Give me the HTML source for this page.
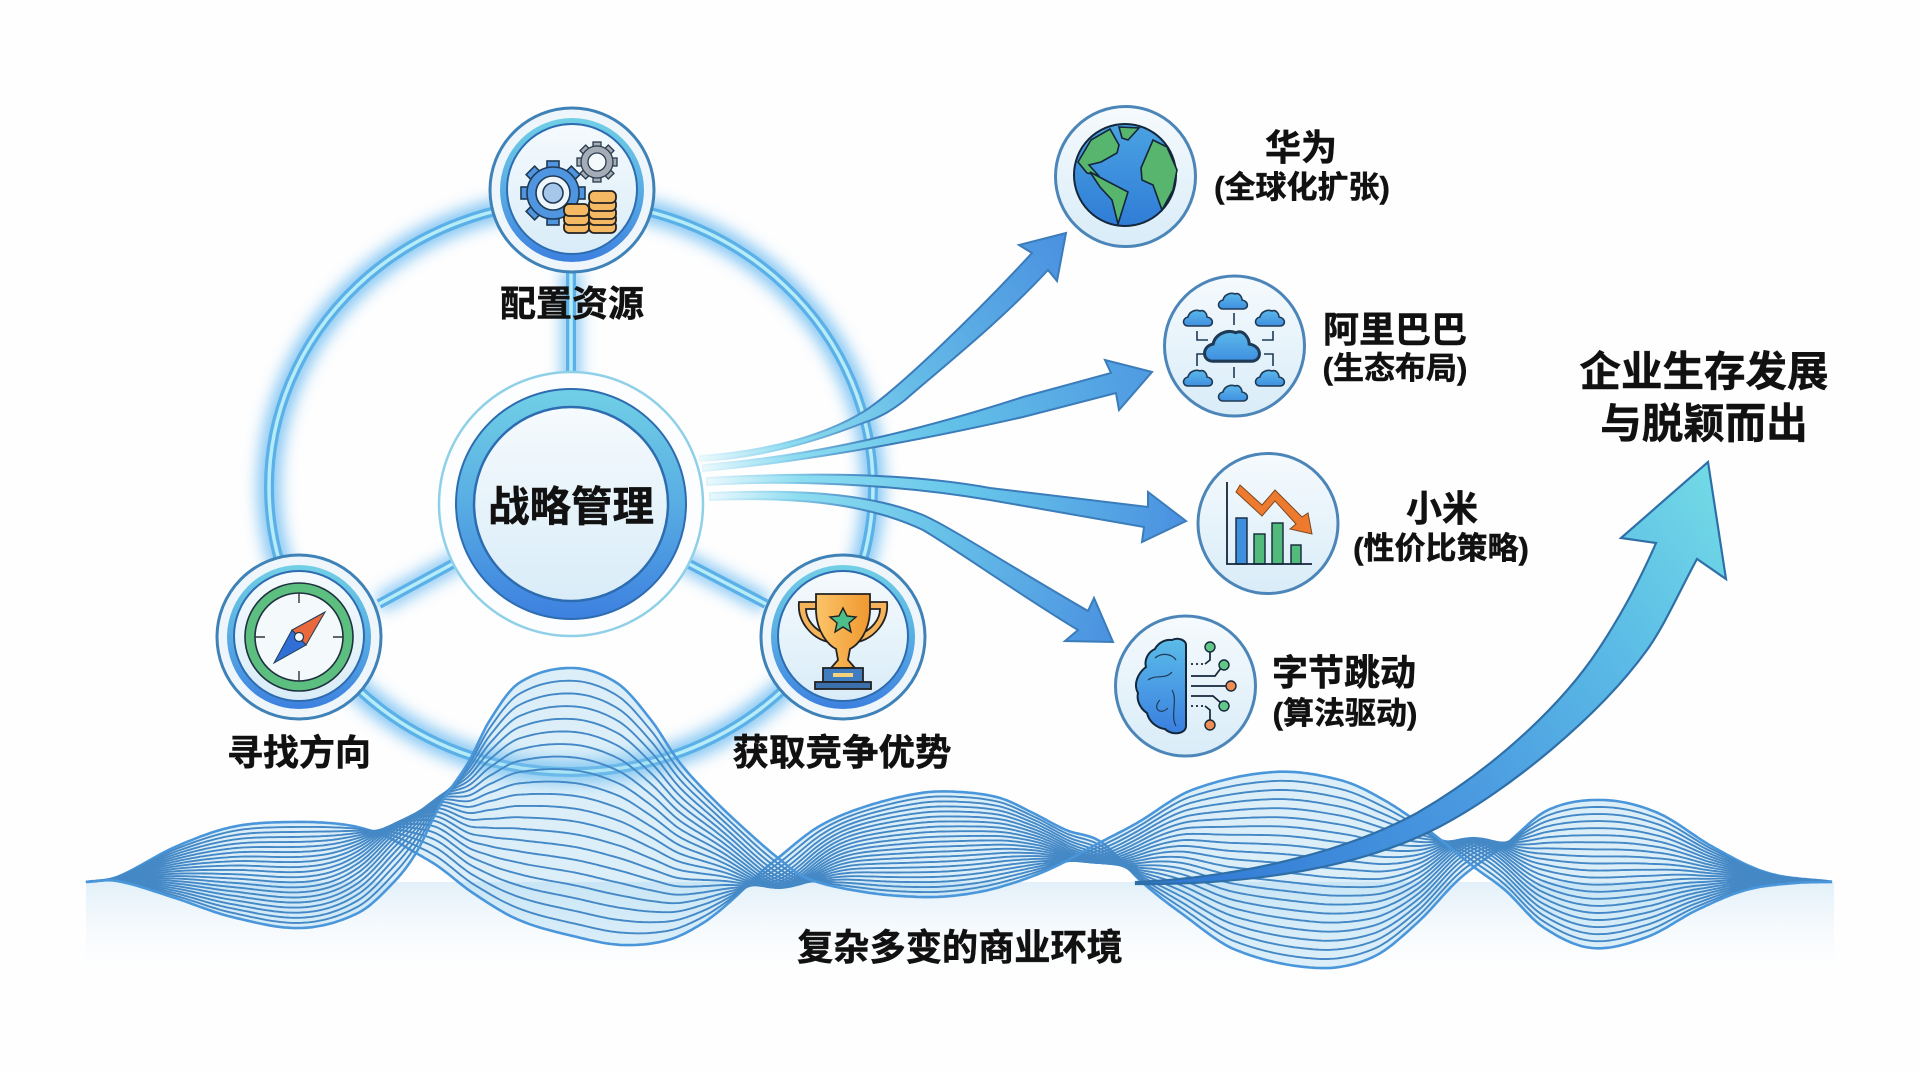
<!DOCTYPE html>
<html lang="zh"><head><meta charset="utf-8"><title>战略管理</title>
<style>
html,body{margin:0;padding:0;background:#fefefe;width:1920px;height:1072px;overflow:hidden}
svg{display:block}
text{font-family:"Liberation Sans","Noto Sans CJK SC",sans-serif;font-weight:700;fill:#111;stroke:#111;stroke-width:.5px;text-anchor:middle}
</style></head><body>
<svg id="s" xmlns="http://www.w3.org/2000/svg" width="1920" height="1072" viewBox="0 0 1920 1072">
<defs>
<filter id="b" x="-20%" y="-20%" width="140%" height="140%"><feGaussianBlur stdDeviation="8"/></filter>
<linearGradient id="disk" x1="0" y1="0" x2="0" y2="1"><stop offset="0" stop-color="#f5fafd"/><stop offset="1" stop-color="#d9ecf8"/></linearGradient>
<linearGradient id="band" x1="0" y1="0" x2="0" y2="1"><stop offset="0" stop-color="#71d0e6"/><stop offset=".5" stop-color="#58ade3"/><stop offset="1" stop-color="#3d80e0"/></linearGradient>
<linearGradient id="wash" x1="0" y1="0" x2="0" y2="1"><stop offset="0" stop-color="#e2f0f9"/><stop offset="1" stop-color="#ffffff" stop-opacity="0"/></linearGradient>
<linearGradient id="a1" gradientUnits="userSpaceOnUse" x1="700" y1="458" x2="1066" y2="233"><stop offset="0" stop-color="#eaf9fd"/><stop offset=".2" stop-color="#8bdcf0"/><stop offset=".55" stop-color="#62b8e6"/><stop offset="1" stop-color="#4a90e0"/></linearGradient>
<linearGradient id="a2" gradientUnits="userSpaceOnUse" x1="703" y1="468" x2="1152" y2="372"><stop offset="0" stop-color="#eaf9fd"/><stop offset=".2" stop-color="#8bdcf0"/><stop offset=".55" stop-color="#62c0e8"/><stop offset="1" stop-color="#4f9ae2"/></linearGradient>
<linearGradient id="a3" gradientUnits="userSpaceOnUse" x1="707" y1="481" x2="1186" y2="521"><stop offset="0" stop-color="#eaf9fd"/><stop offset=".2" stop-color="#8bdcf0"/><stop offset=".55" stop-color="#66c6ea"/><stop offset="1" stop-color="#4a90e0"/></linearGradient>
<linearGradient id="a4" gradientUnits="userSpaceOnUse" x1="710" y1="496" x2="1113" y2="642"><stop offset="0" stop-color="#eaf9fd"/><stop offset=".2" stop-color="#8bdcf0"/><stop offset=".55" stop-color="#66c0e8"/><stop offset="1" stop-color="#4a90e0"/></linearGradient>
<linearGradient id="st" gradientUnits="userSpaceOnUse" x1="700" y1="0" x2="880" y2="0"><stop offset="0" stop-color="#e8f7fc"/><stop offset=".45" stop-color="#8fd4ee"/><stop offset="1" stop-color="#3b7cba"/></linearGradient>
<linearGradient id="big" gradientUnits="userSpaceOnUse" x1="1136" y1="882" x2="1708" y2="462"><stop offset="0" stop-color="#2f76d4"/><stop offset=".45" stop-color="#4a9ae0"/><stop offset=".75" stop-color="#5cbce6"/><stop offset="1" stop-color="#72dae6"/></linearGradient>
<linearGradient id="cup" x1="0" y1="0" x2="1" y2="0"><stop offset="0" stop-color="#fbc469"/><stop offset="1" stop-color="#f0982f"/></linearGradient>
<linearGradient id="globe" x1="0" y1="0" x2="0" y2="1"><stop offset="0" stop-color="#4aa3e2"/><stop offset="1" stop-color="#2f7cd6"/></linearGradient>
<linearGradient id="cl" x1="0" y1="0" x2="0" y2="1"><stop offset="0" stop-color="#5cb8ea"/><stop offset="1" stop-color="#3f8fe0"/></linearGradient>
<linearGradient id="brain" x1="0" y1="0" x2="0" y2="1"><stop offset="0" stop-color="#5bbce8"/><stop offset="1" stop-color="#3a7fe0"/></linearGradient>
<path id="cloud" d="M-11,8 C-17,8 -17,0 -11,-1 C-10,-6 -4,-9 1,-7 C5,-9 8,-4 8,-1 C15,0 15,8 9,8 Z" fill="url(#cl)" stroke="#1f3a55" stroke-width="1.6"/>
</defs>

<!-- bottom wash -->
<rect x="86" y="882" width="1748" height="105" fill="url(#wash)"/>

<!-- ring + spokes -->
<g fill="none">
<g stroke="#72bef2" opacity=".9" filter="url(#b)">
<ellipse cx="571" cy="487" rx="302" ry="285" stroke-width="22"/>
<path d="M571,270V390M467,556L379,604M674,556L766,604" stroke-width="18"/>
</g>
<g stroke="#5cb0e8">
<ellipse cx="571" cy="487" rx="302" ry="285" stroke-width="10"/>
<path d="M571,270V390M467,556L379,604M674,556L766,604" stroke-width="10"/>
</g>
<g stroke="#b5ecf8">
<ellipse cx="571" cy="487" rx="302" ry="285" stroke-width="3.5"/>
<path d="M571,270V390M467,556L379,604M674,556L766,604" stroke-width="3.5"/>
</g>
</g>

<!-- centre -->
<circle cx="571" cy="504" r="132" fill="#fbfdfe" stroke="#8fd0e8" stroke-width="2.5"/>
<circle cx="571" cy="504" r="115" fill="url(#band)" stroke="#2d6cb0" stroke-width="2"/>
<circle cx="571" cy="504" r="97" fill="url(#disk)" stroke="#2d6cb0" stroke-width="2.5"/>

<!-- nodes -->
<circle cx="572" cy="190" r="82" fill="#eef6fb" stroke="#3f82b8" stroke-width="3"/>
<circle cx="572" cy="190" r="72" fill="url(#band)"/>
<circle cx="572" cy="189" r="65" fill="url(#disk)" stroke="#2d6cb0" stroke-width="2"/>
<circle cx="299" cy="637" r="82" fill="#eef6fb" stroke="#3f82b8" stroke-width="3"/>
<circle cx="299" cy="637" r="72" fill="url(#band)"/>
<circle cx="299" cy="636" r="65" fill="url(#disk)" stroke="#2d6cb0" stroke-width="2"/>
<circle cx="843" cy="637" r="82" fill="#eef6fb" stroke="#3f82b8" stroke-width="3"/>
<circle cx="843" cy="637" r="72" fill="url(#band)"/>
<circle cx="843" cy="636" r="65" fill="url(#disk)" stroke="#2d6cb0" stroke-width="2"/>

<!-- gears -->
<g transform="translate(553,193)">
<g fill="#4f95e0" stroke="#1f3a55" stroke-width="1.6">
<rect x="-6" y="-32" width="12" height="64"/><rect x="-6" y="-32" width="12" height="64" transform="rotate(45)"/>
<rect x="-6" y="-32" width="12" height="64" transform="rotate(90)"/><rect x="-6" y="-32" width="12" height="64" transform="rotate(135)"/>
<circle r="26"/></g>
<circle r="24.5" fill="#4f95e0"/>
<circle r="17" fill="#eef6fb" stroke="#1f3a55" stroke-width="1.6"/>
<circle r="10" fill="#a6c6ea" stroke="#1f3a55" stroke-width="1.6"/>
</g>
<g transform="translate(597,162)">
<g fill="#a4adb7" stroke="#2a3a4a" stroke-width="1.3">
<rect x="-4" y="-20" width="8" height="40"/><rect x="-4" y="-20" width="8" height="40" transform="rotate(45)"/>
<rect x="-4" y="-20" width="8" height="40" transform="rotate(90)"/><rect x="-4" y="-20" width="8" height="40" transform="rotate(135)"/>
<circle r="16"/></g>
<circle r="15" fill="#a4adb7"/>
<circle r="9" fill="#f4f9fc" stroke="#2a3a4a" stroke-width="1.3"/>
</g>
<g fill="#f4b962" stroke="#222" stroke-width="1.8">
<rect x="564" y="221" width="25" height="12" rx="5"/><rect x="564" y="213" width="25" height="12" rx="5"/><rect x="564" y="204" width="25" height="12" rx="5"/>
<rect x="589" y="221" width="27" height="12" rx="5"/><rect x="589" y="213" width="27" height="12" rx="5"/><rect x="589" y="207" width="27" height="12" rx="5"/><rect x="589" y="199" width="27" height="12" rx="5"/><rect x="589" y="191" width="27" height="12" rx="5"/>
</g>

<!-- compass -->
<circle cx="299" cy="637" r="49" fill="none" stroke="#5cbf7f" stroke-width="10"/>
<circle cx="299" cy="637" r="54" fill="none" stroke="#1f3040" stroke-width="1.6"/>
<circle cx="299" cy="637" r="44" fill="#f4f9fc" stroke="#1f3040" stroke-width="1.6"/>
<path d="M299,593v10M299,681v-10M255,637h10M343,637h-10" stroke="#333" stroke-width="1.4"/>
<polygon points="325,612 292,630 306,645" fill="#e9683c" stroke="#1f3a55" stroke-width="1"/>
<polygon points="274,663 292,630 306,645" fill="#2f6fd6" stroke="#1f3a55" stroke-width="1"/>
<circle cx="299" cy="637" r="4.5" fill="#f4f9fc" stroke="#1f3a55" stroke-width="1.2"/>

<!-- trophy -->
<g stroke="#222" stroke-width="1.8">
<path d="M818,602 H799 C797,622 812,638 828,642 L826,634 C815,630 806,620 806,609 H818Z" fill="#f6b45a"/>
<path d="M868,602 H887 C889,622 874,638 858,642 L860,634 C871,630 880,620 880,609 H868Z" fill="#f6b45a"/>
<path d="M816,594 H870 L870,612 C869,632 858,645 850,649 L848,660 L855,668 H831 L838,660 L836,649 C828,645 817,632 816,612Z" fill="url(#cup)"/>
<polygon points="843,608 847,616 856,617 849,623 851,632 843,627 835,632 837,623 830,617 839,616" fill="#4cbf8a" stroke-width="1.4"/>
<rect x="823" y="668" width="40" height="14" fill="#3f7cc0"/>
<rect x="815" y="682" width="56" height="7" fill="#3b70ad"/>
</g>
<rect x="833" y="673" width="20" height="4" fill="#f7d27c"/>

<!-- huawei globe -->
<circle cx="1125.5" cy="176.5" r="70" fill="url(#disk)" stroke="#4c86b8" stroke-width="3"/>
<circle cx="1125" cy="175" r="51" fill="url(#globe)" stroke="#14263a" stroke-width="2"/>
<g fill="#58b56e" stroke="#14263a" stroke-width="1.6">
<path d="M1078,162 L1091,140 L1110,129 L1119,145 L1117,153 L1101,162 L1089,165 L1098,175 L1087,173 Z"/>
<path d="M1119,127 L1139,128 L1128,140 L1122,138 Z"/>
<path d="M1090,172 L1105,180 L1128,192 L1118,224 L1112,200 L1100,187 Z"/>
<path d="M1141,168 L1153,140 L1167,147 L1177,170 L1173,190 L1162,210 L1153,185 L1142,180 Z"/>
</g>

<!-- alibaba clouds -->
<circle cx="1234.5" cy="346" r="70" fill="url(#disk)" stroke="#4c86b8" stroke-width="3"/>
<use href="#cloud" transform="translate(1234,346) scale(1.9)"/>
<use href="#cloud" x="1234" y="301"/><use href="#cloud" x="1199" y="318"/><use href="#cloud" x="1271" y="318"/>
<use href="#cloud" x="1199" y="378"/><use href="#cloud" x="1271" y="378"/><use href="#cloud" x="1234" y="393"/>
<path d="M1234,313V325M1234,367V378M1197,331V340H1208M1273,331V340H1262M1197,366V354H1206M1273,366V354H1264" fill="none" stroke="#1f3a55" stroke-width="1.6"/>

<!-- xiaomi chart -->
<circle cx="1268" cy="523.5" r="70" fill="url(#disk)" stroke="#4c86b8" stroke-width="3"/>
<g stroke="#14263a" stroke-width="1.4">
<rect x="1236" y="518" width="11" height="46" fill="#3f8fe0"/>
<rect x="1254" y="534" width="11" height="30" fill="#52bb7c"/>
<rect x="1272" y="523" width="11" height="41" fill="#52bb7c"/>
<rect x="1291" y="545" width="10" height="19" fill="#52bb7c"/>
</g>
<path d="M1227,482V564H1312" fill="none" stroke="#14263a" stroke-width="1.8"/>
<polygon points="1240,485 1262,505 1275,490 1302,517 1308,513 1312,534 1290,529 1296,524 1275,501 1262,516 1236,492" fill="#ee7a30" stroke="#7a4a20" stroke-width="1"/>

<!-- byte brain -->
<circle cx="1185.5" cy="686" r="70" fill="url(#disk)" stroke="#4c86b8" stroke-width="3"/>
<path d="M1186,645 C1186,640 1178,637 1172,640 C1165,639 1158,643 1155,649 C1148,652 1144,660 1146,667 C1138,673 1133,684 1138,693 C1136,702 1142,710 1147,713 C1149,722 1157,728 1165,729 C1172,736 1186,734 1186,726 Z" fill="url(#brain)" stroke="#14263a" stroke-width="2"/>
<path d="M1155,658 C1162,652 1172,654 1176,660M1148,680 C1156,674 1165,680 1172,672M1160,700 C1152,708 1160,716 1168,708M1172,690 C1178,700 1170,716 1176,726" fill="none" stroke="#1f3a55" stroke-width="1.2"/>
<g fill="none" stroke="#14263a" stroke-width="1.7">
<path d="M1191,676H1215L1221,668M1191,686H1226M1191,696H1213L1221,703"/>
<path d="M1191,664H1205" stroke-dasharray="2 3"/><path d="M1205,664L1210,660V652"/>
<path d="M1191,706H1205" stroke-dasharray="2 3"/><path d="M1205,706L1210,710V720"/>
</g>
<g stroke="#14263a" stroke-width="1.4">
<circle cx="1210" cy="647" r="5" fill="#63c887"/><circle cx="1224" cy="665" r="5" fill="#63c887"/>
<circle cx="1231" cy="686" r="5" fill="#ef8d55"/><circle cx="1224" cy="706" r="5" fill="#63c887"/>
<circle cx="1210" cy="725" r="5" fill="#ef8d55"/>
</g>

<!-- arrows -->
<g stroke="url(#st)" stroke-width="2" stroke-linejoin="miter">
<path fill="url(#a1)" d="M700,456 C770,451 825,435 863,412 C895,392 975,315 1032,253 L1019,245 L1066,233 L1057,281 L1048,270 C1000,322 945,365 905,400 C890,412 878,418 863,423 C815,442 760,458 700,461 Z"/>
<path fill="url(#a2)" d="M703,465 C790,458 890,440 1023,397 L1111,373 L1105,360 L1152,372 L1119,410 L1116,393 L1023,417 C890,447 790,463 703,471 Z"/>
<path fill="url(#a3)" d="M707,478 C780,474 890,470 990,488 L1148,507 L1148,492 L1186,521 L1142,542 L1144,527 L990,500 C890,483 780,480 707,485 Z"/>
<path fill="url(#a4)" d="M710,493 C780,490 860,490 923,515 C950,527 1000,560 1088,611 L1094,598 L1113,642 L1065,641 L1078,630 C1020,595 960,552 923,530 C860,500 780,497 710,500 Z"/>
</g>

<!-- waves -->
<g id="w"></g>

<!-- big arrow -->
<path fill="url(#big)" stroke="#2f6fa8" stroke-width="2.2" stroke-linejoin="miter" d="M1136,882 C1230,878 1340,855 1417,813 C1500,765 1565,700 1598,650 C1620,617 1640,580 1656,543 L1621,538 L1708,462 L1726,579 L1697,559 C1680,590 1665,625 1647,650 C1600,715 1510,790 1439,827 C1360,868 1250,885 1136,884 Z"/>

<!-- labels -->
<text x="1301" y="160" font-size="36">华为</text>
<text x="1302" y="198" font-size="31">(全球化扩张)</text>
<text x="1395" y="342" font-size="36">阿里巴巴</text>
<text x="1395" y="379" font-size="31">(生态布局)</text>
<text x="1442" y="521" font-size="36">小米</text>
<text x="1441" y="559" font-size="31">(性价比策略)</text>
<text x="1344" y="685" font-size="36">字节跳动</text>
<text x="1345" y="724" font-size="31">(算法驱动)</text>
<text x="572" y="316" font-size="36">配置资源</text>
<text x="571" y="521" font-size="41.5">战略管理</text>
<text x="299" y="765" font-size="36">寻找方向</text>
<text x="842" y="765" font-size="36.5">获取竞争优势</text>
<text x="960" y="960" font-size="36.2">复杂多变的商业环境</text>
<text x="1704" y="386" font-size="41.5">企业生存发展</text>
<text x="1704" y="438" font-size="41.5">与脱颖而出</text>
</svg>
<script>
(function(){
var A=[[86,882],[117,877],[175,847],[232,827],[290,822],[347,825],[385,836],[416,853],[439,867],[473,893],[519,920],[577,937],[623,945],[668,940],[703,923],[732,900],[760,873],[778,858],[818,827],[864,807],[921,793],[960,792],[1000,798],[1033,813],[1066,830],[1101,842],[1143,883],[1181,913],[1236,950],[1318,968],[1373,957],[1417,923],[1455,883],[1474,867],[1505,845],[1548,810],[1603,800],[1658,813],[1713,847],[1768,873],[1834,882]];
var B=[[86,882],[117,881],[175,898],[232,917],[301,928],[358,913],[393,883],[416,853],[440,805],[468,763],[490,720],[519,683],[571,668],[617,683],[651,720],[680,763],[714,800],[749,833],[778,858],[806,878],[864,892],[921,897],[960,895],[1000,887],[1050,869],[1101,842],[1137,823],[1192,790],[1274,772],[1340,780],[1384,800],[1428,830],[1474,867],[1505,890],[1543,927],[1592,948],[1647,937],[1697,910],[1746,890],[1795,883],[1834,882]];
function ev(P,x){
 var n=P.length,i=0;
 while(i<n-2&&x>P[i+1][0])i++;
 var p0=P[Math.max(i-1,0)],p1=P[i],p2=P[i+1],p3=P[Math.min(i+2,n-1)];
 var h=p2[0]-p1[0],t=(x-p1[0])/h;
 var m1=(p2[1]-p0[1])/(p2[0]-p0[0])*h,m2=(p3[1]-p1[1])/(p3[0]-p1[0])*h;
 var t2=t*t,t3=t2*t;
 return (2*t3-3*t2+1)*p1[1]+(t3-2*t2+t)*m1+(-2*t3+3*t2)*p2[1]+(t3-t2)*m2;
}
var Ks=[[416,160,55],[778,-120,45],[1101,-85,40],[1474,116,45]];
function K(x){var s=0;for(var j=0;j<4;j++){var d=(x-Ks[j][0])/Ks[j][2];s+=Ks[j][1]*Math.exp(-d*d);}return s;}
var N=22,w=document.getElementById('w'),paths='',xs=[],mn=[],mx=[],x,k;
for(x=86;x<=1834;x+=3){xs.push(x);mn.push(1e9);mx.push(-1e9);}
for(k=0;k<N;k++){
 var u=k/(N-1)-.5,d='';
 for(var i=0;i<xs.length;i++){
  x=xs[i];
  var a=ev(A,x),b=ev(B,x),y=(a+b)/2+u*(b-a)+(u*u-.25)*K(x);
  if(y<mn[i])mn[i]=y; if(y>mx[i])mx[i]=y;
  d+=(d?'L':'M')+x+','+y.toFixed(1);
 }
 var edge=(k==0||k==N-1);
 paths+='<path d="'+d+'" fill="none" stroke="'+(edge?'#4a96da':'#4488c6')+'" stroke-width="'+(edge?2.6:1.9)+'" stroke-linejoin="round"/>';
}
var f='';
for(i=0;i<xs.length;i++)f+=(f?'L':'M')+xs[i]+','+mn[i].toFixed(1);
for(i=xs.length-1;i>=0;i--)f+='L'+xs[i]+','+mx[i].toFixed(1);
w.innerHTML='<path d="'+f+'Z" fill="#8fcdf0" fill-opacity=".3"/>'+paths;
})();
</script>
</body></html>
